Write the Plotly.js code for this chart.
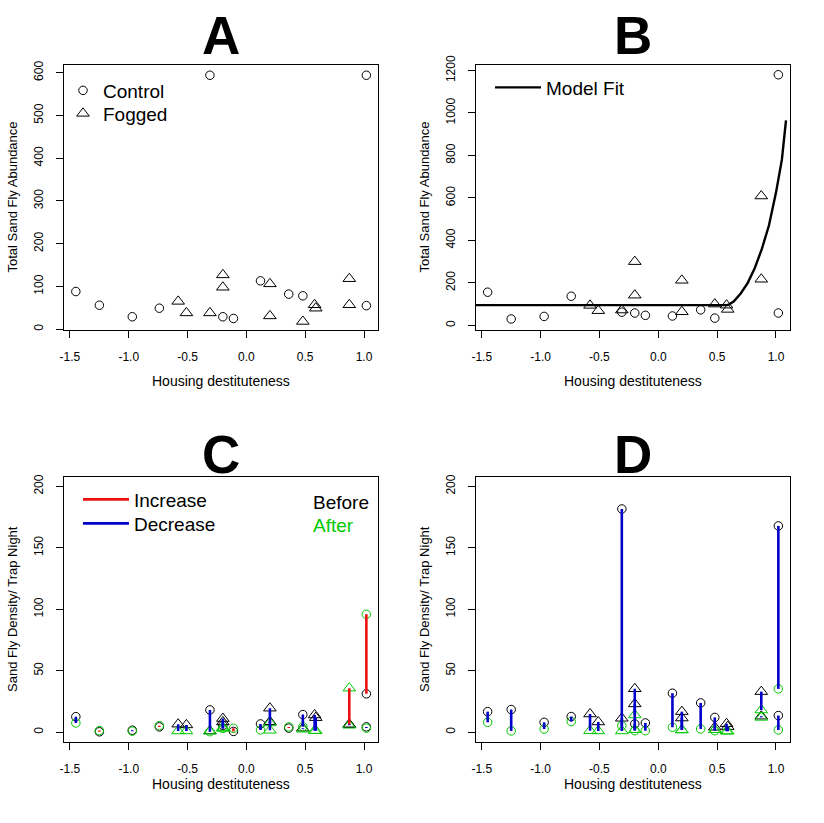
<!DOCTYPE html>
<html><head><meta charset="utf-8">
<script src="https://cdn.plot.ly/plotly-3.0.1.min.js"></script>
<style>html,body{margin:0;padding:0;background:#fff}</style>
</head><body><div id="chart" style="width:824px;height:823px"></div>
<script>
// ---- data ----
const ctrlX = [-1.45, -1.25, -0.97, -0.74, -0.31, -0.20, -0.11, 0.12, 0.36, 0.48, 1.02, 1.02];
const fogX  = [-0.58, -0.51, -0.31, -0.20, -0.20, 0.20, 0.20, 0.48, 0.58, 0.59, 0.875, 0.875];

// Panel A: total sand fly abundance
const aCtrl = [88, 56, 29, 49, 594, 29, 25, 113, 82, 78, 594, 55];
const aFog  = [65, 38, 38, 127, 98, 106, 31, 18, 57, 49, 118, 57];

// Panel B: total sand fly abundance + model fit
const bCtrl = [156, 30, 42, 137, 62, 58, 47, 44, 73, 34, 1180, 58];
const bFog  = [94, 69, 72, 300, 142, 212, 64, 100, 95, 75, 609, 217];
const fitX  = [-1.55, 0.59, 0.64, 0.70, 0.76, 0.82, 0.88, 0.94, 1.00, 1.05, 1.085];
const fitY  = [95, 95, 112, 150, 200, 270, 360, 470, 625, 780, 965];

// Panel C: density per trap night, before / after
const cCtrlBefore = [12.6, 0.3, 1.6, 4.3, 18.1, 5.5, 0.6, 6.7, 3.3, 14.3, 31.2, 4.3];
const cCtrlAfter  = [7.5, 1.3, 0.8, 5.3, 0.4, 3.0, 3.1, 1.8, 4.3, 4.5, 95.9, 3.3];
const cFogBefore  = [6.5, 5.9, 1.0, 11.1, 8.3, 19.5, 8.5, 3.2, 14.0, 11.8, 6.1, 6.4];
const cFogAfter   = [1.0, 1.0, 0.8, 3.7, 3.0, 1.5, 7.5, 2.4, 1.2, 1.2, 35.8, 5.6];

// Panel D: density per trap night, before / after
const dCtrlBefore = [16.7, 18.4, 8.0, 12.7, 181.6, 6.7, 7.5, 31.7, 23.8, 12.0, 167.8, 13.5];
const dCtrlAfter  = [8.0, 1.0, 2.6, 8.6, 5.3, 1.2, 1.2, 4.0, 2.6, 1.2, 35.2, 1.8];
const dFogBefore  = [14.8, 8.3, 11.3, 35.3, 23.0, 16.7, 11.5, 4.0, 6.9, 4.5, 33.0, 13.0];
const dFogAfter   = [1.2, 1.0, 1.0, 14.0, 2.0, 1.8, 1.8, 2.0, 0.8, 0.8, 18.0, 12.0];

// ticks
const xTickVals = [-1.5, -1.0, -0.5, 0.0, 0.5, 1.0];
const xTickText = ['-1.5', '-1.0', '-0.5', '0.0', '0.5', '1.0'];
const yTicksA  = [0, 100, 200, 300, 400, 500, 600];
const yTicksB  = [0, 200, 400, 600, 800, 1000, 1200];
const yTicksCD = [0, 50, 100, 150, 200];

// ---- styling ----
const FONT = 'Liberation Sans, Arial, Helvetica, sans-serif';
const BLACK = '#000000', GREEN = '#00C800', RED = '#EE1010', BLUE = '#0000C8';
const W = 824, H = 823;
const px2x = p => p / W, px2y = p => 1 - p / H;
const colL = [px2x(64.2), px2x(378)], colR = [px2x(476), px2x(790)];
const rowT = [px2y(330), px2y(65)], rowB = [px2y(742), px2y(476.5)];

function segs(xs, before, after, up) {
  const x = [], y = [];
  xs.forEach((v, i) => {
    if ((after[i] > before[i]) === up) { x.push(v, v, null); y.push(before[i], after[i], null); }
  });
  return {x, y};
}

const circ = (x, y, color, xa, ya, extra) => Object.assign({
  type: 'scatter', mode: 'markers', x, y, xaxis: xa, yaxis: ya, showlegend: false, hoverinfo: 'skip',
  marker: {symbol: 'circle-open', size: 8.5, color, line: {width: 1, color}}
}, extra || {});
const tri = (x, y, color, xa, ya, extra) => Object.assign({
  type: 'scatter', mode: 'markers', x, y, xaxis: xa, yaxis: ya, showlegend: false, hoverinfo: 'skip',
  marker: {symbol: 'triangle-up-open', size: 11, color, line: {width: 1, color}}
}, extra || {});
const segTrace = (s, color, xa, ya, extra) => Object.assign({
  type: 'scatter', mode: 'lines', x: s.x, y: s.y, xaxis: xa, yaxis: ya, showlegend: false, hoverinfo: 'skip',
  connectgaps: false, line: {color, width: 2.6}
}, extra || {});

const traces = [];
// A
traces.push(circ(ctrlX, aCtrl, BLACK, 'x', 'y', {name: 'Control', showlegend: true, legend: 'legend'}));
traces.push(tri(fogX, aFog, BLACK, 'x', 'y', {name: 'Fogged', showlegend: true, legend: 'legend4'}));
// B
traces.push(circ(ctrlX, bCtrl, BLACK, 'x2', 'y2'));
traces.push(tri(fogX, bFog, BLACK, 'x2', 'y2'));
traces.push({type: 'scatter', mode: 'lines', x: fitX, y: fitY, xaxis: 'x2', yaxis: 'y2', name: 'Model Fit',
  showlegend: true, legend: 'legend2', hoverinfo: 'skip', line: {color: BLACK, width: 2.4}});
// C
traces.push(circ(ctrlX, cCtrlBefore, BLACK, 'x3', 'y3'));
traces.push(tri(fogX, cFogBefore, BLACK, 'x3', 'y3'));
traces.push(circ(ctrlX, cCtrlAfter, GREEN, 'x3', 'y3'));
traces.push(tri(fogX, cFogAfter, GREEN, 'x3', 'y3'));
{
  const up1 = segs(ctrlX, cCtrlBefore, cCtrlAfter, true), up2 = segs(fogX, cFogBefore, cFogAfter, true);
  const dn1 = segs(ctrlX, cCtrlBefore, cCtrlAfter, false), dn2 = segs(fogX, cFogBefore, cFogAfter, false);
  traces.push(segTrace({x: up1.x.concat(up2.x), y: up1.y.concat(up2.y)}, RED, 'x3', 'y3', {name: 'Increase', showlegend: true, legend: 'legend3'}));
  traces.push(segTrace({x: dn1.x.concat(dn2.x), y: dn1.y.concat(dn2.y)}, BLUE, 'x3', 'y3', {name: 'Decrease', showlegend: true, legend: 'legend5'}));
}
// D
traces.push(circ(ctrlX, dCtrlBefore, BLACK, 'x4', 'y4'));
traces.push(tri(fogX, dFogBefore, BLACK, 'x4', 'y4'));
traces.push(circ(ctrlX, dCtrlAfter, GREEN, 'x4', 'y4'));
traces.push(tri(fogX, dFogAfter, GREEN, 'x4', 'y4'));
{
  const up1 = segs(ctrlX, dCtrlBefore, dCtrlAfter, true), up2 = segs(fogX, dFogBefore, dFogAfter, true);
  const dn1 = segs(ctrlX, dCtrlBefore, dCtrlAfter, false), dn2 = segs(fogX, dFogBefore, dFogAfter, false);
  traces.push(segTrace({x: up1.x.concat(up2.x), y: up1.y.concat(up2.y)}, RED, 'x4', 'y4'));
  traces.push(segTrace({x: dn1.x.concat(dn2.x), y: dn1.y.concat(dn2.y)}, BLUE, 'x4', 'y4'));
}

const axBase = {
  showline: true, mirror: true, linecolor: BLACK, linewidth: 1, showgrid: false, zeroline: false,
  ticks: 'outside', ticklen: 7, tickwidth: 1, tickcolor: BLACK,
  tickfont: {family: FONT, size: 12, color: BLACK}, fixedrange: true
};
const xAx = (domain, anchor) => Object.assign({}, axBase, {
  domain, anchor, range: [-1.549, 1.119], tickmode: 'array', tickvals: xTickVals, ticktext: xTickText,
  ticklabelstandoff: 9
});
const yAx = (domain, anchor, range, tv) => Object.assign({}, axBase, {
  domain, anchor, range, tickmode: 'array', tickvals: tv, ticktext: tv.map(String), tickangle: -90,
  ticklabelstandoff: 8
});

const ann = [];
const addText = (text, xp, yp, size, opts) => ann.push(Object.assign({
  text, x: px2x(xp), y: px2y(yp), xref: 'paper', yref: 'paper', showarrow: false,
  xanchor: 'center', yanchor: 'middle', font: {family: FONT, size, color: BLACK}
}, opts || {}));
// panel titles
const titleFont = {family: FONT, size: 53, color: BLACK, weight: 'bold'};
addText('A', 221, 35, 53, {font: titleFont});
addText('B', 633, 35, 53, {font: titleFont});
addText('C', 221, 455, 53, {font: titleFont});
addText('D', 633, 455, 53, {font: titleFont});
// axis titles
addText('Housing destituteness', 221, 381, 14);
addText('Housing destituteness', 633, 381, 14);
addText('Housing destituteness', 221, 784, 14);
addText('Housing destituteness', 633, 784, 14);
addText('Total Sand Fly Abundance', 12, 197.5, 13, {textangle: -90});
addText('Total Sand Fly Abundance', 424, 197.5, 13, {textangle: -90});
addText('Sand Fly Density/ Trap Night', 12, 609, 13, {textangle: -90});
addText('Sand Fly Density/ Trap Night', 424, 609, 13, {textangle: -90});
// text-only legend entries in C
addText('Before', 311, 502, 19, {xanchor: 'left'});
addText('After', 311, 525, 19, {xanchor: 'left', font: {family: FONT, size: 19, color: GREEN}});

const legBase = {xref: 'paper', yref: 'paper', xanchor: 'left', yanchor: 'top', bgcolor: 'rgba(0,0,0,0)',
  borderwidth: 0, font: {family: FONT, size: 19, color: BLACK}, itemwidth: 30, tracegroupgap: 0};
const leg = (xp, yTopPx, extra) => Object.assign({}, legBase, {x: px2x(xp), y: px2y(yTopPx)}, extra || {});

const layout = {
  width: W, height: H, margin: {l: 0, r: 0, t: 0, b: 0}, paper_bgcolor: '#fff', plot_bgcolor: '#fff',
  showlegend: true,
  xaxis: xAx(colL, 'y'), yaxis: yAx(rowT, 'x', [-2, 618], yTicksA),
  xaxis2: xAx(colR, 'y2'), yaxis2: yAx(rowT, 'x2', [-22, 1226], yTicksB),
  xaxis3: xAx(colL, 'y3'), yaxis3: yAx(rowB, 'x3', [-8, 208], yTicksCD),
  xaxis4: xAx(colR, 'y4'), yaxis4: yAx(rowB, 'x4', [-8, 208], yTicksCD),
  legend:  leg(63, 71.5),
  legend4: leg(63, 94.5),
  legend2: leg(490, 68.5, {itemwidth: 46}),
  legend3: leg(78, 480.5, {itemwidth: 46}),
  legend5: leg(78, 504.5, {itemwidth: 46}),
  annotations: ann
};

Plotly.newPlot('chart', traces, layout, {staticPlot: true, displayModeBar: false});
</script></body></html>
